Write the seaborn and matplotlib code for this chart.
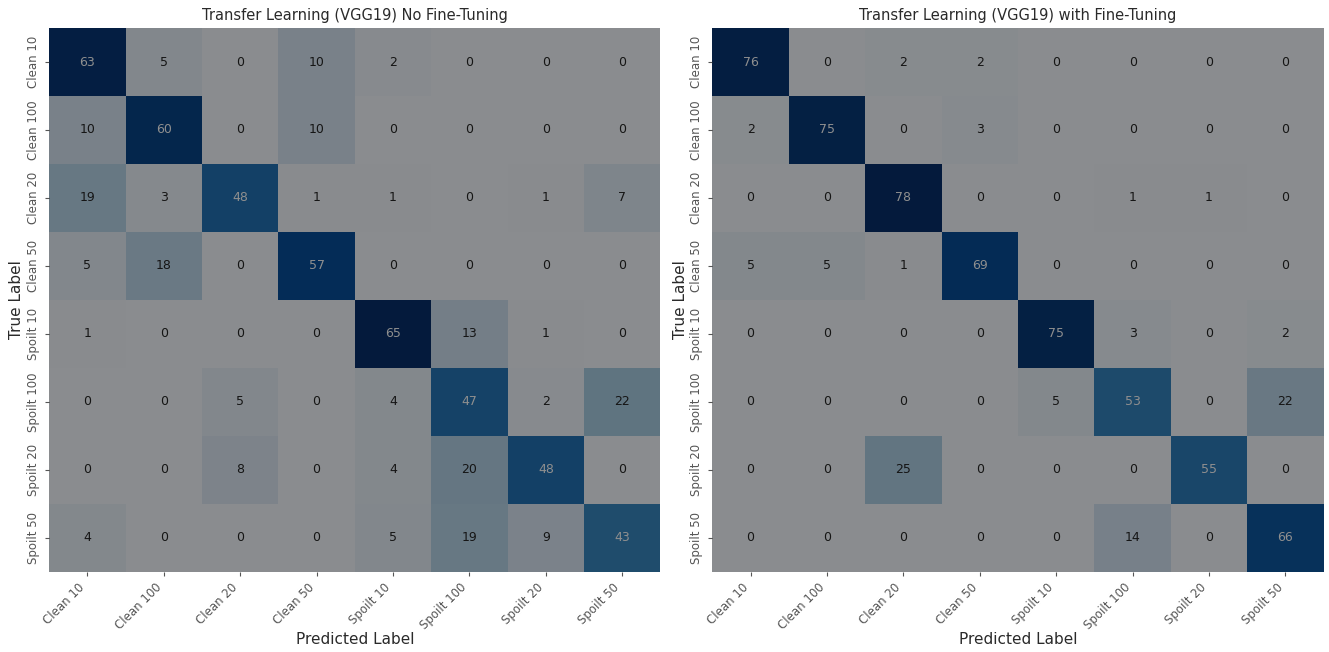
import numpy as np
import matplotlib
matplotlib.use("Agg")
import matplotlib.pyplot as plt
from matplotlib.patches import Rectangle
import seaborn as sns

classes = ["Clean 10", "Clean 100", "Clean 20", "Clean 50",
           "Spoilt 10", "Spoilt 100", "Spoilt 20", "Spoilt 50"]

cm_no_ft = [
    [63, 5, 0, 10, 2, 0, 0, 0],
    [10, 60, 0, 10, 0, 0, 0, 0],
    [19, 3, 48, 1, 1, 0, 1, 7],
    [5, 18, 0, 57, 0, 0, 0, 0],
    [1, 0, 0, 0, 65, 13, 1, 0],
    [0, 0, 5, 0, 4, 47, 2, 22],
    [0, 0, 8, 0, 4, 20, 48, 0],
    [4, 0, 0, 0, 5, 19, 9, 43],
]

cm_ft = [
    [76, 0, 2, 2, 0, 0, 0, 0],
    [2, 75, 0, 3, 0, 0, 0, 0],
    [0, 0, 78, 0, 0, 1, 1, 0],
    [5, 5, 1, 69, 0, 0, 0, 0],
    [0, 0, 0, 0, 75, 3, 0, 2],
    [0, 0, 0, 0, 5, 53, 0, 22],
    [0, 0, 25, 0, 0, 0, 55, 0],
    [0, 0, 0, 0, 0, 14, 0, 66],
]

titles = ["Transfer Learning (VGG19) No Fine-Tuning",
          "Transfer Learning (VGG19) with Fine-Tuning"]

fig, axes = plt.subplots(1, 2, figsize=(13.29, 6.52), dpi=100)
fig.subplots_adjust(left=0.037, right=0.996, top=0.957, bottom=0.123, wspace=0.085)

for ax, cm, title in zip(axes, [cm_no_ft, cm_ft], titles):
    sns.heatmap(np.array(cm), annot=True, fmt="d", cmap="Blues", cbar=False,
                xticklabels=classes, yticklabels=classes, ax=ax,
                annot_kws={"fontsize": 9})
    # dark translucent veil over the matrix
    ax.add_patch(Rectangle((0, 0), 1, 1, transform=ax.transAxes,
                           facecolor="black", alpha=0.44, zorder=10,
                           linewidth=0))
    ax.set_title(title, fontsize=10.5, color="#2a2a2a")
    ax.set_xlabel("Predicted Label", fontsize=11, color="#2a2a2a", labelpad=0)
    ax.set_ylabel("True Label", fontsize=11, color="#2a2a2a", labelpad=2)
    ax.set_xticklabels(classes, rotation=45, ha="right", fontsize=8.5,
                       color="#2a2a2a")
    ax.set_yticklabels(classes, rotation=90, va="center", fontsize=8.5,
                       color="#2a2a2a")
    ax.tick_params(colors="#555555", length=3)

fig.savefig("out.png", dpi=100)
